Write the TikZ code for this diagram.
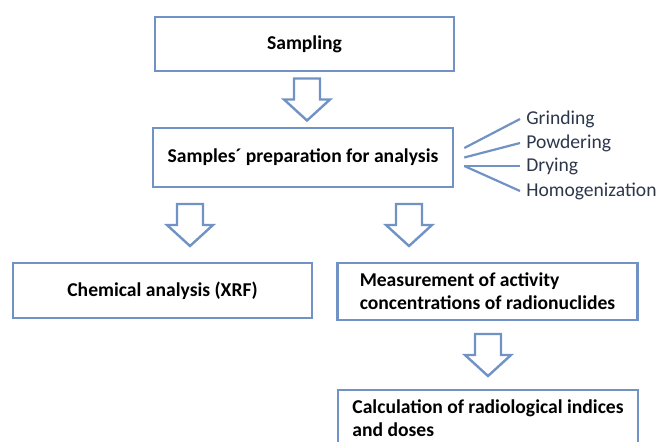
\documentclass[tikz,border=0pt]{standalone}
\usepackage{fontspec}
\setmainfont{Carlito}
\usetikzlibrary{positioning,calc}
\definecolor{boxblue}{RGB}{112,146,196}
\definecolor{labgray}{RGB}{45,55,75}

\begin{document}
\begin{tikzpicture}[x=1pt,y=-1pt,line width=2.6pt,line join=miter,
 stage/.style={draw=boxblue,fill=white,rectangle,inner sep=0pt,
  font=\bfseries\fontsize{19.6}{23}\selectfont},
 steplab/.style={anchor=west,text=labgray,inner sep=5pt,
  font=\fontsize{19.6}{22}\selectfont},
 branch/.style={draw=boxblue,line width=2.2pt},
 blockarrow/.style={draw=boxblue,fill=white,line width=2.4pt}]
\useasboundingbox (0,0) rectangle (659,442);
% boxes
\node[stage,minimum width=299pt,minimum height=54pt] (sampling) at (304.5,44) {Sampling};
\node[stage,minimum width=300pt,minimum height=59pt] (prep) at (303,157.5) {Samples´ preparation for analysis};
\node[stage,minimum width=299pt,minimum height=55pt] (chem) at (162.5,290.5) {Chemical analysis (XRF)};
\node[stage,minimum width=300pt,minimum height=57pt,align=left] (meas) at (487.5,291.5)
 {Measurement of activity\\concentrations of radionuclides};
\node[stage,minimum width=300pt,minimum height=57pt,align=left] (calc) at (488,418.5)
 {Calculation of radiological indices\\ and doses};
% preparation steps
\node[steplab] (grind) at (520,119) {Grinding};
\node[steplab] (powder) at (520,143) {Powdering};
\node[steplab] (dry) at (520,166) {Drying};
\node[steplab] (homog) at (520,191) {Homogenization};
\foreach \lab/\dy in {grind/-9.5,powder/0,dry/8.5,homog/8.5}
 \draw[branch] ($(prep.east)+(10,\dy)$) -- (\lab.west);
% block arrows
\foreach \a/\b/\ax in {sampling/prep/307,prep/chem/190,prep/meas/409,meas/calc/488}{
 \coordinate (mid) at ($(\a.south)!.5!(\b.north)$);
 \coordinate (c) at (perpendicular cs: horizontal line through={(mid)},vertical line through={(\ax,0)});
 \draw[blockarrow] ($(c)+(-13,-21)$) -- ++(26,0) -- ++(0,21) -- ++(10,0)
  -- ++(-23,21) -- ++(-23,-21) -- ++(10,0) -- cycle;
}
\end{tikzpicture}
\end{document}
